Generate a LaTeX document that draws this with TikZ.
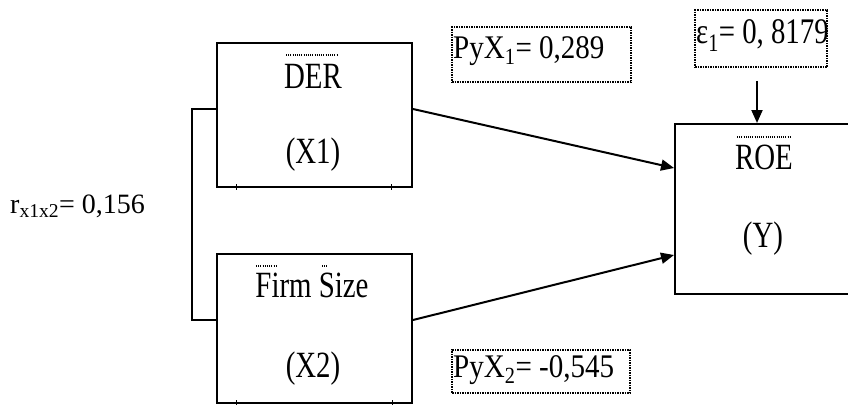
\documentclass[tikz,border=0pt]{standalone}
\usepackage{fontspec}
\usepackage{graphicx}
\setmainfont{Liberation Serif}
\newfontfamily\boxfamily{Liberation Serif}[FakeStretch=0.78]
\newfontfamily\pathfamily{Liberation Serif}[FakeStretch=0.88]
\newfontfamily\epsfamily{Liberation Serif}[FakeStretch=0.8]
\usetikzlibrary{arrows.meta}
\tikzset{
  box/.style={draw, line width=2pt, inner sep=0pt},
  label text/.style={inner sep=0pt, anchor=base, font=\boxfamily\fontsize{37}{40}\selectfont},
  coef box/.style={draw, densely dotted, line width=1.5pt, inner sep=0pt},
  coef text/.style={inner sep=0pt, anchor=base west, font=\pathfamily\fontsize{33}{36}\selectfont},
  link/.style={line width=2pt},
  path arrow/.style={line width=2pt, -{Triangle[length=13pt,width=11pt]}},
  spell/.style={line width=1.3pt, dash pattern=on 1pt off 1.2pt},
  tickmark/.style={line width=1pt}
}
\begin{document}
\begin{tikzpicture}[x=1pt,y=-1pt]
\useasboundingbox (0,0) rectangle (848,405);
\clip (0,0) rectangle (848,405);
% boxes
\node[box, minimum width=195pt, minimum height=144pt] (der) at (314.5,115) {};
\node[box, minimum width=195pt, minimum height=149pt] (firm) at (314.5,328.5) {};
\node[box, minimum width=178pt, minimum height=170pt] (roe) at (764,209) {};
% coefficient boxes
\node[coef box, minimum width=179pt, minimum height=55pt] (p1box) at (541.5,54.5) {};
\node[coef box, minimum width=178pt, minimum height=43pt] (p2box) at (541,371.5) {};
\node[coef box, minimum width=132pt, minimum height=57pt] (ebox) at (761,38.5) {};
% texts
\node[label text] (derT) at (313,88) {DER};
\node[label text] (x1T) at (313,163) {(X1)};
\node[label text] (firmT) at (312,297) {Firm Size};
\node[label text] (x2T) at (313,377) {(X2)};
\node[label text] (roeT) at (764,169) {ROE};
\node[label text] (yT) at (763,247) {(Y)};
\node[coef text] (p1T) at (453,58) {PyX\textsubscript{1}= 0,289};
\node[coef text] (p2T) at (453,377) {PyX\textsubscript{2}= -0,545};
\node[coef text, font=\epsfamily\fontsize{36}{38}\selectfont] (eT) at (696,43) {ε\textsubscript{1}= 0, 8179};
\node[inner sep=0pt, anchor=base west, font=\fontsize{28}{30}\selectfont] (rT) at (10,213) {r\textsubscript{x1x2}= 0,156};
% spelling dots
\draw[spell] (286,55) -- (337,55);
\draw[spell] (737,137) -- (792,137);
\draw[spell] (256,266) -- (278,266);
\draw[spell] (322,266) -- (327,266);
% ticks
\draw[tickmark] (236,184) -- (236,190);
\draw[tickmark] (391,184) -- (391,190);
\draw[tickmark] (236,400) -- (236,405);
\draw[tickmark] (392,400) -- (392,405);
% connectors
\draw[link] ([yshift=6pt]der.west) -- ++(-24,0) |- ([yshift=8.5pt]firm.west);
\draw[path arrow] ([yshift=6pt]der.east) -- ([yshift=41pt]roe.west);
\draw[path arrow] ([yshift=8.5pt]firm.east) -- ([yshift=-46pt]roe.west);
\draw[path arrow] ([xshift=-4pt,yshift=-13pt]ebox.south) -- ([xshift=-7pt]roe.north);
\end{tikzpicture}
\end{document}
